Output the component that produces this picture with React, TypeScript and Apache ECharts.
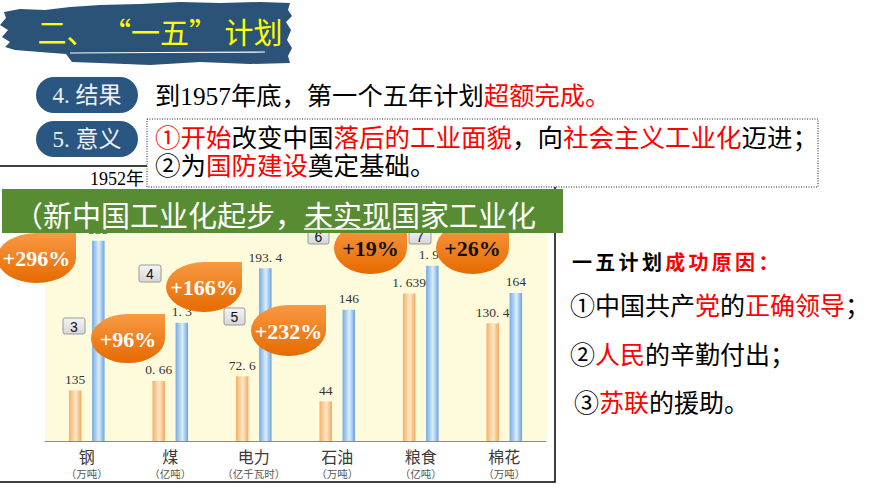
import React, { useEffect, useRef } from 'react';
import * as echarts from 'echarts';

// ---------- data ----------
const categories = ['钢', '煤', '电力', '石油', '粮食', '棉花'];
const units = ['万吨', '亿吨', '亿千瓦时', '万吨', '亿吨', '万吨'];
const seriesNames = ['1952年', '1957年'];
const values1952 = [135, 0.66, 72.6, 44, 1.639, 130.4];
const values1957 = [535, 1.3, 193.4, 146, 1.95, 164];
const growthLabels = ['+296%', '+96%', '+166%', '+232%', '+19%', '+26%'];
const stepLabels = ['3', '4', '5', '6', '7'];

const headerText = '二、 “一五” 计划';
const pillTexts = ['4. 结果', '5. 意义'];
const chartTitle = '1952年';
const resultLine: [string, boolean][] = [['到1957年底，第一个五年计划', false], ['超额完成。', true]];
const meaningLine1: [string, boolean][] = [['①开始', true], ['改变中国', false], ['落后的工业面貌', true], ['，向', false], ['社会主义工业化', true], ['迈进；', false]];
const meaningLine2: [string, boolean][] = [['②为', false], ['国防建设', true], ['奠定基础。', false]];
const bannerParts = ['（新中国工业化起步，', '未实现', '国家工业化'];
const reasonTitle: [string, boolean][] = [['一五计划', false], ['成功原因：', true]];
const reason1: [string, boolean][] = [['①中国共产', false], ['党', true], ['的', false], ['正确领导', true], ['；', false]];
const reason2: [string, boolean][] = [['②', false], ['人民', true], ['的辛勤付出；', false]];
const reason3: [string, boolean][] = [['③', false], ['苏联', true], ['的援助。', false]];

// ---------- layout (per-category pictorial scales & placements) ----------
const axisMax = [644, 2.65, 270, 268, 2.68, 267];
const badgeBoxes = [[-3, 233, 79, 50], [91, 314, 74, 49], [166, 262, 76, 50], [251, 305, 75, 51], [334, 222, 73, 52], [436, 222, 73, 52]];
const badgeDarkText = [false, false, false, false, true, true];
const stepBoxes = [[63, 318, 22, 16], [139, 265, 22, 17], [224, 308, 21, 17], [308, 228, 21, 16], [409, 228, 22, 16]];

const RED = '#FF0000';
const BLACK = '#000000';
const MIX = "'Liberation Serif', 'Noto Sans CJK SC', serif";
const CJK = "'Noto Sans CJK SC', sans-serif";

echarts.graphic.registerShape(
  'badge',
  echarts.graphic.extendPath('M0,50 A50,50 0 0 1 50,0 L100,0 L100,50 A50,50 0 0 1 50,100 A50,50 0 0 1 0,50 Z', {})
);

function rich(segs: [string, boolean][], fontSize: number, fontFamily: string, fontWeight = 'normal') {
  const r: any = {};
  let text = '';
  segs.forEach(([t, red], i) => {
    const k = 's' + i;
    r[k] = { fill: red ? RED : BLACK, fontSize, fontFamily, fontWeight };
    text += `{${k}|${t}}`;
  });
  return { text, rich: r };
}

export default function App() {
  const ref = useRef<HTMLDivElement>(null);

  useEffect(() => {
    if (!ref.current) return;
    const chart = echarts.init(ref.current, undefined, { renderer: 'svg' });

    const orangeGrad = new echarts.graphic.LinearGradient(0, 0, 1, 0, [
      { offset: 0, color: '#F6AF64' },
      { offset: 0.55, color: '#FFE8CA' },
      { offset: 1, color: '#F4A858' },
    ]);
    const blueGrad = new echarts.graphic.LinearGradient(0, 0, 1, 0, [
      { offset: 0, color: '#74ABE3' },
      { offset: 0.55, color: '#DCEDFB' },
      { offset: 1, color: '#68A3DE' },
    ]);

    const n = categories.length;
    const gridLeft = 45;
    const gridW = 83.5;
    const grids = categories.map((_, i) => ({ left: gridLeft + i * gridW, top: 200, width: gridW, height: 241 }));
    const xAxes = categories.map((c, i) => ({
      gridIndex: i,
      type: 'category',
      data: [c],
      axisLine: { lineStyle: { color: '#8A8A8A', width: 1 } },
      axisTick: { inside: true, length: 5, lineStyle: { color: '#8A8A8A' } },
      axisLabel: {
        margin: 6,
        formatter: (v: string) => `{n|${v}}\n{u|（${units[i]}）}`,
        rich: {
          n: { fontSize: 16, lineHeight: 18, color: '#3A3A3A', fontFamily: CJK },
          u: { fontSize: 10.5, lineHeight: 16, color: '#555', fontFamily: CJK },
        },
      },
    }));
    const yAxes = categories.map((_, i) => ({ gridIndex: i, type: 'value', min: 0, max: axisMax[i], show: false }));
    const labelCfg = {
      show: true,
      position: 'top',
      distance: 4,
      fontSize: 13.5,
      fontFamily: "'Liberation Serif', serif",
      color: '#333',
      formatter: (p: any) => String(p.value).replace('.', '. '),
    };
    const series: any[] = [];
    for (let i = 0; i < n; i++) {
      series.push({
        type: 'bar', name: seriesNames[0], xAxisIndex: i, yAxisIndex: i,
        data: [values1952[i]], barWidth: 12.5, barGap: '85%',
        itemStyle: { color: orangeGrad }, label: labelCfg,
      });
      series.push({
        type: 'bar', name: seriesNames[1], xAxisIndex: i, yAxisIndex: i,
        data: [values1957[i]], barWidth: 12.5, barGap: '85%',
        itemStyle: { color: blueGrad }, label: labelCfg,
      });
    }

    const g: any[] = [];
    // yellow chart background
    g.push({ type: 'rect', z: 0, shape: { x: 45, y: 200, width: 502, height: 241 }, style: { fill: '#FEFBDC' } });
    // frame
    g.push({ type: 'polyline', z: 1, shape: { points: [[-2, 166], [555, 166], [555, 482], [-2, 482]] }, style: { stroke: '#000', lineWidth: 1.5, fill: null } });
    g.push({ type: 'text', z: 1, x: 90, y: 178.5, style: { text: chartTitle, fontSize: 18, fontFamily: MIX, fill: '#000', verticalAlign: 'middle' } });

    // header brush banner
    g.push({
      type: 'polygon', z: 5,
      shape: { points: [[4, 12], [20, 9], [45, 10], [70, 7], [100, 5], [140, 4], [180, 2], [220, 3], [260, 2], [290, 3], [288, 10], [292, 16], [286, 22], [291, 30], [287, 40], [292, 48], [288, 56], [290, 63], [250, 64], [200, 62], [150, 65], [100, 63], [72, 62], [66, 54], [40, 52], [15, 50], [5, 47], [10, 42], [2, 37], [8, 30], [0, 25], [6, 18]] },
      style: { fill: '#2B5277' },
    });
    g.push({ type: 'polyline', z: 6, shape: { points: [[70, 53], [160, 52.5], [265, 52]] }, style: { stroke: '#fff', lineWidth: 1.2, fill: null } });
    g.push({ type: 'text', z: 7, x: 160, y: 31, style: { text: headerText, fontSize: 29, fontFamily: CJK, fill: '#FFFF00', align: 'center', verticalAlign: 'middle' } });

    // pills
    [77, 121].forEach((y, i) => {
      g.push({ type: 'rect', z: 5, shape: { x: 36, y, width: 102, height: 36, r: 18 }, style: { fill: '#2A5682' } });
      g.push({ type: 'text', z: 6, x: 87, y: y + 18.5, style: { text: pillTexts[i], fontSize: 23, fontFamily: MIX, fill: '#EEF2F6', align: 'center', verticalAlign: 'middle' } });
    });
    g.push({ type: 'text', z: 6, x: 155, y: 95.5, style: { ...rich(resultLine, 25.3, MIX), verticalAlign: 'middle' } });

    // dotted box
    g.push({ type: 'rect', z: 20, shape: { x: 147, y: 119, width: 671, height: 68 }, style: { fill: '#fff', stroke: '#222', lineWidth: 1, lineDash: [1, 1.5] } });
    g.push({ type: 'text', z: 21, x: 155, y: 138, style: { ...rich(meaningLine1, 25.5, MIX), verticalAlign: 'middle' } });
    g.push({ type: 'text', z: 21, x: 155, y: 166.5, style: { ...rich(meaningLine2, 25.5, MIX), verticalAlign: 'middle' } });

    // badges
    badgeBoxes.forEach(([x, y, w, h], i) => {
      g.push({
        type: 'badge', z: 10, x, y, scaleX: w / 100, scaleY: h / 100,
        style: {
          fill: new echarts.graphic.LinearGradient(0, 0, 0, 1, [
            { offset: 0, color: '#F89A44' },
            { offset: 1, color: '#E66A00' },
          ]),
        },
      });
      g.push({
        type: 'text', z: 11, x: x + w / 2, y: y + h / 2 + 0.5,
        style: {
          text: growthLabels[i], fontSize: 22, fontWeight: 'bold', fontFamily: "'Liberation Serif', serif",
          fill: badgeDarkText[i] ? '#111' : '#fff', align: 'center', verticalAlign: 'middle',
        },
      });
    });

    // step boxes
    stepBoxes.forEach(([x, y, w, h], i) => {
      g.push({
        type: 'rect', z: 10, shape: { x, y, width: w, height: h, r: 2 },
        style: {
          fill: new echarts.graphic.LinearGradient(0, 0, 0, 1, [
            { offset: 0, color: '#F5F5F5' },
            { offset: 1, color: '#D6D6D6' },
          ]),
          stroke: '#9A9A9A', lineWidth: 1,
        },
      });
      g.push({ type: 'text', z: 11, x: x + w / 2, y: y + h / 2 + 0.5, style: { text: stepLabels[i], fontSize: 14, fontFamily: "'Liberation Sans', sans-serif", fill: '#111', align: 'center', verticalAlign: 'middle' } });
    });

    // green banner
    const bannerFs = 29;
    const bannerX = 14;
    g.push({ type: 'rect', z: 30, shape: { x: 2, y: 189, width: 561, height: 44 }, style: { fill: '#588C32' } });
    g.push({ type: 'text', z: 31, x: bannerX, y: 214, style: { text: bannerParts.join(''), fontSize: bannerFs, fontFamily: CJK, fill: '#fff', verticalAlign: 'middle' } });
    const ulStart = bannerX + bannerParts[0].length * bannerFs;
    const ulEnd = ulStart + bannerParts[1].length * bannerFs;
    g.push({ type: 'line', z: 31, shape: { x1: ulStart, y1: 229, x2: ulEnd, y2: 229 }, style: { stroke: '#fff', lineWidth: 1.5 } });

    // right side: reasons
    let idx = 0;
    reasonTitle.forEach(([t, red]) => {
      for (const ch of t) {
        g.push({ type: 'text', z: 5, x: 572 + idx * 23.3, y: 261, style: { text: ch, fontSize: 20, fontWeight: 'bold', fontFamily: CJK, fill: red ? RED : BLACK, verticalAlign: 'middle' } });
        idx++;
      }
    });
    g.push({ type: 'text', z: 5, x: 570, y: 303.5, style: { ...rich(reason1, 25, CJK), verticalAlign: 'middle' } });
    g.push({ type: 'text', z: 5, x: 570, y: 353, style: { ...rich(reason2, 25, CJK), verticalAlign: 'middle' } });
    g.push({ type: 'text', z: 5, x: 574, y: 401, style: { ...rich(reason3, 25, CJK), verticalAlign: 'middle' } });

    chart.setOption({
      animation: false,
      backgroundColor: '#ffffff',
      grid: grids,
      xAxis: xAxes,
      yAxis: yAxes,
      series,
      graphic: { elements: g },
    });

    return () => chart.dispose();
  }, []);

  return <div ref={ref} style={{ position: 'fixed', left: 0, top: 0, width: 870, height: 489 }} />;
}
